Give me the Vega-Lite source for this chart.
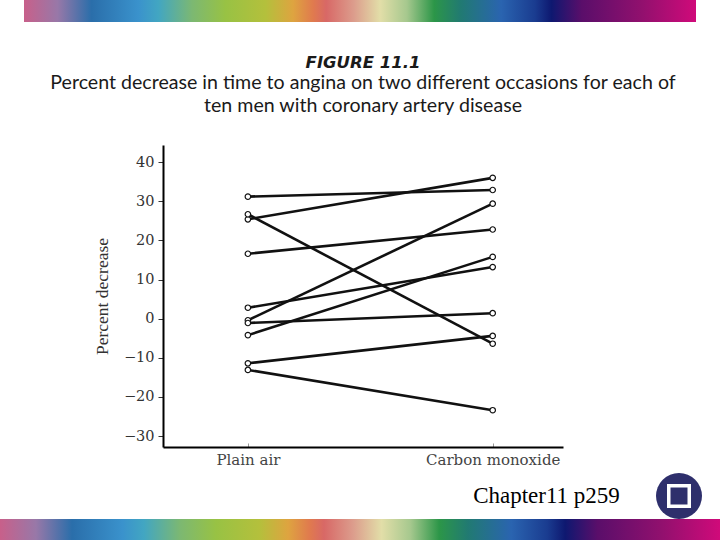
{
  "$schema": "https://vega.github.io/schema/vega-lite/v6.json",
  "background": "white",
  "padding": 0,
  "spacing": 0,
  "config": {"view": {"stroke": null}},
  "datasets": {
    "angina": [
      {"man": 1, "condition": "Plain air", "pct": 31.2},
      {"man": 1, "condition": "Carbon monoxide", "pct": 32.9},
      {"man": 2, "condition": "Plain air", "pct": 25.4},
      {"man": 2, "condition": "Carbon monoxide", "pct": 36.0},
      {"man": 3, "condition": "Plain air", "pct": 26.7},
      {"man": 3, "condition": "Carbon monoxide", "pct": -6.4},
      {"man": 4, "condition": "Plain air", "pct": 16.6},
      {"man": 4, "condition": "Carbon monoxide", "pct": 22.8},
      {"man": 5, "condition": "Plain air", "pct": 2.8},
      {"man": 5, "condition": "Carbon monoxide", "pct": 13.2},
      {"man": 6, "condition": "Plain air", "pct": -0.4},
      {"man": 6, "condition": "Carbon monoxide", "pct": 29.4},
      {"man": 7, "condition": "Plain air", "pct": -1.1},
      {"man": 7, "condition": "Carbon monoxide", "pct": 1.4},
      {"man": 8, "condition": "Plain air", "pct": -4.2},
      {"man": 8, "condition": "Carbon monoxide", "pct": 15.8},
      {"man": 9, "condition": "Plain air", "pct": -11.4},
      {"man": 9, "condition": "Carbon monoxide", "pct": -4.4},
      {"man": 10, "condition": "Plain air", "pct": -13.1},
      {"man": 10, "condition": "Carbon monoxide", "pct": -23.4}
    ],
    "one": [{"k": 1}]
  },
  "vconcat": [
    {
      "width": 720, "height": 22,
      "data": {"name": "one"},
      "mark": {"type": "rect", "fill": {
        "gradient": "linear", "x1": 0, "x2": 1, "y1": 0, "y2": 0,
        "stops": [
          {"offset": 0, "color": "#ffffff"},
          {"offset": 0.0332, "color": "#ffffff"},
          {"offset": 0.0334, "color": "#c8608a"},
          {"offset": 0.080, "color": "#9878a8"},
          {"offset": 0.127, "color": "#2a6eaa"},
          {"offset": 0.192, "color": "#3a92cc"},
          {"offset": 0.220, "color": "#42a6c2"},
          {"offset": 0.267, "color": "#7cb872"},
          {"offset": 0.313, "color": "#98c244"},
          {"offset": 0.369, "color": "#b4c03c"},
          {"offset": 0.407, "color": "#dea440"},
          {"offset": 0.435, "color": "#e07a4e"},
          {"offset": 0.453, "color": "#d86866"},
          {"offset": 0.491, "color": "#dc9c8c"},
          {"offset": 0.528, "color": "#e2dea8"},
          {"offset": 0.565, "color": "#a6c88e"},
          {"offset": 0.603, "color": "#2c9648"},
          {"offset": 0.640, "color": "#217a72"},
          {"offset": 0.696, "color": "#2a64b0"},
          {"offset": 0.743, "color": "#1a3c90"},
          {"offset": 0.766, "color": "#0e1870"},
          {"offset": 0.808, "color": "#5a0e6a"},
          {"offset": 0.892, "color": "#92106e"},
          {"offset": 0.9666, "color": "#d00a7a"},
          {"offset": 0.9668, "color": "#ffffff"},
          {"offset": 1, "color": "#ffffff"}
        ]}},
      "encoding": {}
    },
    {
      "width": 720, "height": 32,
      "data": {"name": "one"},
      "mark": {"type": "rect", "opacity": 0},
      "encoding": {}
    },
    {
      "bounds": "flush",
      "spacing": 0,
      "hconcat": [
        {
          "width": 163, "height": 302,
          "data": {"name": "one"},
          "mark": {"type": "rect", "opacity": 0},
          "encoding": {}
        },
        {
          "width": 400, "height": 302,
          "data": {"name": "angina"},
          "title": {
            "text": "FIGURE 11.1",
            "subtitle": [
              "Percent decrease in time to angina on two different occasions for each of",
              "ten men with coronary artery disease"
            ],
            "frame": "group",
            "anchor": "middle",
            "font": "DejaVu Sans",
            "fontSize": 16.5,
            "fontStyle": "italic",
            "fontWeight": "bold",
            "color": "#1a1a1a",
            "subtitleFont": "Lato",
            "subtitleFontSize": 19.6,
            "subtitleColor": "#1a1a1a",
            "subtitleLineHeight": 23,
            "subtitlePadding": 3,
            "offset": 29
          },
          "encoding": {
            "x": {
              "field": "condition", "type": "nominal",
              "sort": ["Plain air", "Carbon monoxide"],
              "scale": {"type": "point", "padding": 0.317, "align": 0.547},
              "axis": {
                "title": null, "grid": false, "labelAngle": 0,
                "domainColor": "#000000", "domainWidth": 2,
                "tickSize": -4, "tickColor": "#999999", "tickWidth": 1,
                "labelFont": "DejaVu Serif", "labelFontSize": 15, "labelColor": "#444444",
                "labelPadding": 9
              }
            },
            "y": {
              "field": "pct", "type": "quantitative",
              "scale": {"domain": [-32.8, 44.4], "nice": false, "zero": false},
              "axis": {
                "title": "Percent decrease", "grid": false,
                "values": [-30, -20, -10, 0, 10, 20, 30, 40],
                "domainColor": "#000000", "domainWidth": 2,
                "tickSize": 5, "tickColor": "#333333", "tickWidth": 1,
                "labelFont": "DejaVu Serif", "labelFontSize": 14.5, "labelColor": "#333333",
                "labelPadding": 4,
                "titleFont": "Liberation Serif", "titleFontSize": 17.5, "titleFontWeight": "normal",
                "titleColor": "#333333", "titlePadding": 12
              }
            }
          },
          "layer": [
            {
              "mark": {"type": "line", "color": "#111111", "strokeWidth": 2.6},
              "encoding": {"detail": {"field": "man", "type": "nominal"}}
            },
            {
              "mark": {"type": "point", "shape": "circle", "filled": true, "fill": "#ffffff", "stroke": "#111111", "strokeWidth": 1.2, "size": 30, "opacity": 1},
              "encoding": {}
            }
          ]
        }
      ]
    },
    {
      "width": 720, "height": 6,
      "data": {"name": "one"},
      "mark": {"type": "rect", "opacity": 0},
      "encoding": {}
    },
    {
      "bounds": "flush",
      "spacing": 0,
      "hconcat": [
        {
          "width": 437, "height": 46,
          "data": {"name": "one"},
          "mark": {"type": "rect", "opacity": 0},
          "encoding": {}
        },
        {
          "width": 219, "height": 46,
          "data": {"name": "one"},
          "mark": {"type": "text", "text": "Chapter11 p259", "font": "Liberation Serif", "fontSize": 23, "color": "#000000", "align": "center", "baseline": "middle"},
          "encoding": {}
        },
        {
          "width": 46, "height": 46,
          "data": {"name": "one"},
          "layer": [
            {
              "mark": {"type": "point", "shape": "circle", "filled": true, "color": "#2e2f6c", "size": 2116, "opacity": 1, "strokeWidth": 0},
              "encoding": {}
            },
            {
              "mark": {"type": "point", "shape": "square", "filled": false, "stroke": "#ffffff", "size": 420, "strokeWidth": 3.5, "opacity": 1},
              "encoding": {}
            }
          ]
        }
      ]
    },
    {
      "width": 720, "height": 21,
      "data": {"name": "one"},
      "mark": {"type": "rect", "fill": {
        "gradient": "linear", "x1": 0, "x2": 1, "y1": 0, "y2": 0,
        "stops": [
          {"offset": 0, "color": "#c8608a"},
          {"offset": 0.05, "color": "#9878a8"},
          {"offset": 0.10, "color": "#2a6eaa"},
          {"offset": 0.17, "color": "#3a92cc"},
          {"offset": 0.20, "color": "#42a6c2"},
          {"offset": 0.25, "color": "#7cb872"},
          {"offset": 0.30, "color": "#98c244"},
          {"offset": 0.36, "color": "#b4c03c"},
          {"offset": 0.40, "color": "#dea440"},
          {"offset": 0.43, "color": "#e07a4e"},
          {"offset": 0.45, "color": "#d86866"},
          {"offset": 0.49, "color": "#dc9c8c"},
          {"offset": 0.53, "color": "#e2dea8"},
          {"offset": 0.57, "color": "#a6c88e"},
          {"offset": 0.61, "color": "#2c9648"},
          {"offset": 0.65, "color": "#217a72"},
          {"offset": 0.71, "color": "#2a64b0"},
          {"offset": 0.76, "color": "#1a3c90"},
          {"offset": 0.785, "color": "#0e1870"},
          {"offset": 0.83, "color": "#5a0e6a"},
          {"offset": 0.92, "color": "#92106e"},
          {"offset": 1, "color": "#d00a7a"}
        ]}},
      "encoding": {}
    }
  ]
}
